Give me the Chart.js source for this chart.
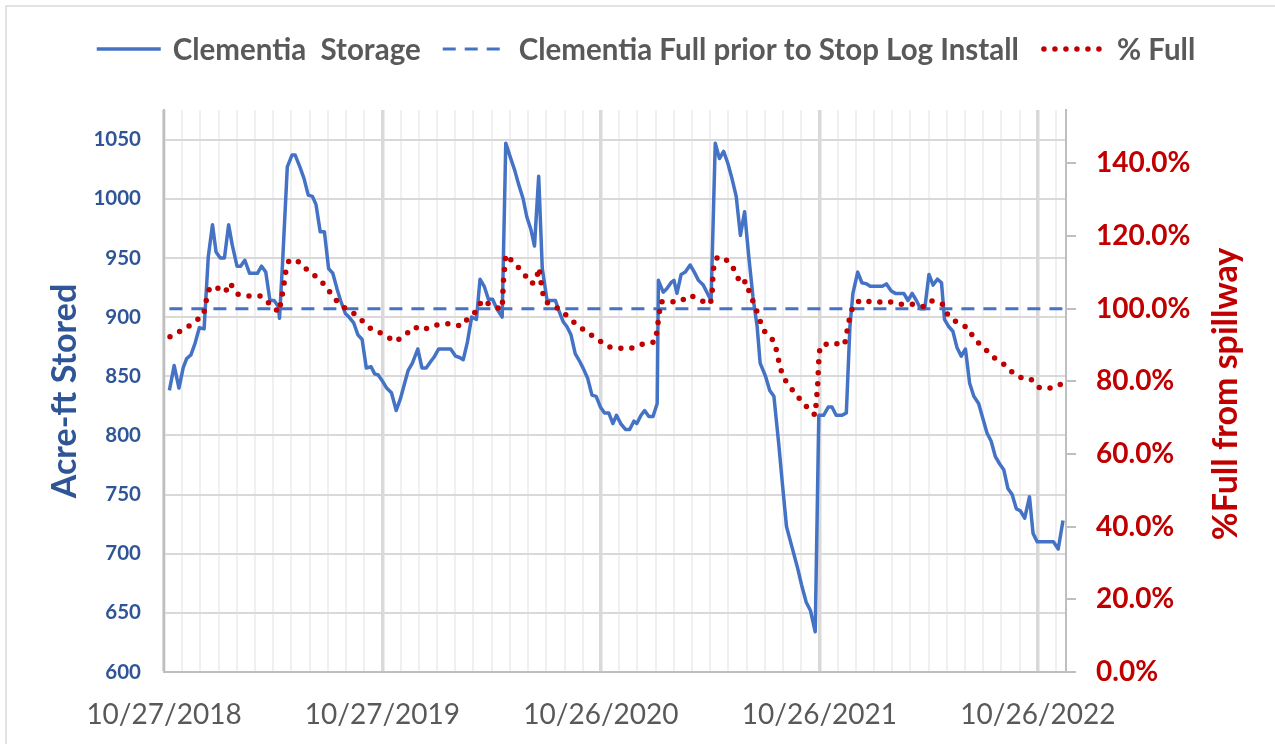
<!DOCTYPE html>
<html>
<head>
<meta charset="utf-8">
<title>Clementia Storage</title>
<script src="https://cdn.jsdelivr.net/npm/chart.js@4.4.1/dist/chart.umd.min.js"></script>
<style>
  html, body { margin: 0; padding: 0; background: #ffffff; }
  canvas { display: block; }
</style>
</head>
<body>
<canvas id="chart" width="1275" height="744"></canvas>
<script>
// days counted from 10/27/2018
const storageDays = [
  9, 17, 25, 32, 38, 45, 52, 59, 67, 74, 81, 87, 94, 101, 108, 114, 122, 128, 135, 143,
  150, 156, 163, 170, 177, 184, 191, 193, 198, 206, 214, 219, 227, 234, 241, 248, 254, 261, 268, 275,
  282, 289, 295, 303, 309, 317, 324, 331, 338, 346, 352, 358, 366, 372, 380, 388, 395, 402, 408, 415,
  424, 431, 438, 445, 451, 459, 465, 473, 479, 487, 493, 500, 507, 514, 522, 528, 535, 542, 549, 556,
  565, 571, 578, 586, 592, 600, 606, 613, 619, 626, 632, 640, 646, 654, 660, 667, 673, 680, 687, 694,
  701, 708, 715, 722, 729, 736, 743, 750, 756, 763, 771, 778, 785, 790, 797, 803, 810, 817, 824, 826,
  834, 840, 847, 852, 857, 864, 871, 879, 886, 893, 901, 907, 914, 921, 928, 935, 942, 949, 956, 963,
  970, 977, 984, 991, 996, 1005, 1012, 1019, 1027, 1033, 1040, 1049, 1058, 1065, 1073, 1080, 1088, 1094, 1102, 1110,
  1116, 1123, 1133, 1140, 1146, 1151, 1159, 1166, 1174, 1180, 1189, 1200, 1207, 1215, 1222, 1229, 1236, 1243, 1250, 1257,
  1264, 1271, 1278, 1285, 1292, 1299, 1304, 1311, 1318, 1325, 1332, 1339, 1346, 1353, 1361, 1375, 1382, 1389, 1396, 1403,
  1410, 1417, 1424, 1431, 1438, 1446, 1452, 1459, 1467, 1476, 1486, 1494, 1502
];
const storage = [
  838, 859, 840, 857, 865, 868, 878, 891, 890, 951, 978, 955, 950, 950, 978, 961, 943, 943, 948, 937,
  937, 937, 943, 938, 914, 914, 909, 899, 945, 1027, 1037, 1037, 1027, 1017, 1003, 1002, 995, 972, 972, 941,
  937, 924, 914, 903, 900, 895, 885, 881, 857, 858, 852, 851, 845, 840, 836, 821, 831, 844, 855, 861,
  873, 857, 857, 862, 866, 873, 873, 873, 873, 867, 866, 864, 879, 900, 898, 932, 926, 915, 915, 907,
  900, 1047, 1036, 1024, 1013, 1000, 985, 974, 960, 1019, 941, 914, 914, 914, 905, 896, 892, 885, 869, 863,
  856, 848, 834, 833, 824, 819, 819, 810, 817, 810, 805, 805, 812, 810, 817, 821, 816, 816, 827, 931,
  921, 924, 929, 931, 920, 936, 938, 944, 938, 931, 927, 921, 914, 1047, 1034, 1040, 1030, 1017, 1002, 969,
  989, 951, 917, 892, 861, 850, 838, 833, 793, 760, 723, 706, 689, 674, 659, 652, 634, 817, 817, 824,
  824, 817, 817, 819, 892, 920, 938, 929, 928, 926, 926, 926, 928, 922, 920, 920, 920, 914, 920, 914,
  907, 907, 936, 927, 932, 929, 898, 892, 888, 874, 867, 873, 844, 833, 827, 802, 795, 782, 776, 771,
  755, 750, 738, 736, 730, 748, 717, 710, 710, 710, 710, 704, 728
];

const pctDays = [
  10, 21, 34, 51, 66, 70, 76, 84, 102, 110, 123, 141, 162, 177, 192, 196, 200, 203, 209, 226,
  242, 259, 272, 283, 299, 317, 333, 347, 368, 386, 401, 418, 432, 454, 475, 497, 510, 523, 531, 551,
  565, 566, 567, 569, 571, 585, 600, 614, 622, 626, 629, 631, 637, 655, 672, 688, 707, 724, 742, 761,
  782, 802, 821, 824, 827, 830, 845, 861, 879, 899, 913, 916, 917, 919, 925, 942, 955, 963, 972, 979,
  988, 995, 1004, 1019, 1025, 1029, 1038, 1051, 1066, 1080, 1088, 1090, 1092, 1093, 1094, 1096, 1115, 1137, 1141, 1145,
  1151, 1164, 1186, 1208, 1230, 1251, 1271, 1283, 1300, 1310, 1327, 1343, 1354, 1370, 1386, 1405, 1421, 1439, 1449, 1463,
  1486, 1501
];
const pctFull = [
  92.3, 93.4, 94.3, 96.4, 98.2, 101.9, 105.6, 106.2, 104.5, 107.1, 104.0, 103.5, 103.5, 101.3, 99.0, 102.4, 106.2, 109.9, 113.4, 112.9,
  110.2, 108.3, 105.8, 103.1, 100.5, 98.7, 96.4, 94.3, 92.9, 90.9, 92.5, 95.0, 94.1, 95.5, 95.9, 95.2, 97.8, 99.4, 102.4, 100.5,
  99.9, 103.7, 107.4, 111.1, 114.9, 112.6, 109.9, 106.9, 107.7, 111.3, 109.2, 105.4, 101.9, 100.5, 98.2, 95.8, 93.5, 91.6, 89.5, 89.1,
  89.2, 90.4, 90.9, 94.4, 98.2, 101.9, 101.9, 101.9, 103.7, 102.1, 101.3, 105.1, 108.8, 112.4, 114.3, 113.2, 110.2, 106.8, 107.6, 104.0,
  100.5, 97.0, 93.6, 91.1, 87.5, 83.8, 80.3, 77.4, 74.4, 71.9, 70.7, 74.8, 78.5, 82.2, 85.8, 89.7, 90.6, 90.0, 93.6, 97.1,
  100.8, 102.4, 101.7, 102.1, 101.2, 101.2, 100.5, 102.1, 101.4, 98.2, 95.9, 94.8, 91.6, 89.2, 86.6, 84.5, 81.9, 80.5, 80.5, 78.2,
  78.2, 79.4
];

const fullLevel = 907;
const yearLabels = ["10/27/2018", "10/27/2019", "10/26/2020", "10/26/2021", "10/26/2022"];
const seriesNames = ["Clementia  Storage", "Clementia Full prior to Stop Log Install", "% Full"];

const FONT = "Lato";
const axisEnd = 1507;

// one gridline per month, a major one per year
const monthTicks = [];
for (let i = 0; i * 365 / 12 <= axisEnd; i++) monthTicks.push(i * 365 / 12);

const storagePts = storageDays.map((d, i) => ({ x: d, y: storage[i] }));
const pctPts = pctDays.map((d, i) => ({ x: d, y: pctFull[i] }));
const fullPts = [
  { x: storageDays[0], y: fullLevel },
  { x: storageDays[storageDays.length - 1], y: fullLevel },
];

const extras = {
  id: "extras",
  beforeDraw(chart) {
    const ctx = chart.ctx;
    ctx.save();
    ctx.fillStyle = "#ffffff";
    ctx.fillRect(0, 0, chart.width, chart.height);
    ctx.strokeStyle = "#D9D9D9";
    ctx.lineWidth = 1.5;
    ctx.strokeRect(6, 6, chart.width + 20, chart.height + 20);
    ctx.restore();
  },
  afterDraw(chart) {
    const ctx = chart.ctx;
    const area = chart.chartArea;
    const midY = (area.top + area.bottom) / 2;

    // axis titles, both read bottom to top
    ctx.save();
    ctx.font = "bold 34px " + FONT;
    ctx.textAlign = "center";
    ctx.textBaseline = "alphabetic";
    ctx.fillStyle = "#2F5597";
    ctx.translate(76, midY);
    ctx.rotate(-Math.PI / 2);
    ctx.fillText("Acre-ft Stored", 0, 0);
    ctx.restore();

    ctx.save();
    ctx.font = "bold 34px " + FONT;
    ctx.textAlign = "center";
    ctx.textBaseline = "alphabetic";
    ctx.fillStyle = "#C00000";
    ctx.translate(1237, midY + 3);
    ctx.rotate(-Math.PI / 2);
    ctx.fillText("%Full from spillway", 0, 0);
    ctx.restore();

    // legend
    ctx.save();
    ctx.font = "bold 29.5px " + FONT;
    ctx.textBaseline = "middle";
    const lineLen = 64, gapText = 12, gapItem = 22;
    const sets = chart.data.datasets;
    const widths = sets.map(ds => lineLen + gapText + ctx.measureText(ds.label).width);
    const total = widths.reduce((a, b) => a + b, 0) + gapItem * (sets.length - 1);
    let x = 646 - total / 2;
    const y = 49;
    sets.forEach((ds, i) => {
      ctx.beginPath();
      ctx.strokeStyle = ds.borderColor;
      ctx.lineWidth = ds.borderWidth;
      ctx.lineCap = ds.borderCapStyle || "butt";
      ctx.setLineDash(ds.borderDash || []);
      ctx.moveTo(x + (ds.borderCapStyle === "round" ? 3 : 0), y);
      ctx.lineTo(x + lineLen, y);
      ctx.stroke();
      ctx.setLineDash([]);
      ctx.fillStyle = "#595959";
      ctx.fillText(ds.label, x + lineLen + gapText, y + 1);
      x += widths[i] + gapItem;
    });
    ctx.restore();
  }
};

const ctx = document.getElementById("chart").getContext("2d");
new Chart(ctx, {
  type: "line",
  data: {
    datasets: [
      {
        label: seriesNames[0],
        data: storagePts,
        yAxisID: "y",
        borderColor: "#4472C4",
        borderWidth: 3.5,
        borderJoinStyle: "round",
        pointRadius: 0,
        tension: 0,
        order: 1,
      },
      {
        label: seriesNames[1],
        data: fullPts,
        yAxisID: "y",
        borderColor: "#4472C4",
        borderWidth: 3,
        borderDash: [13, 9],
        pointRadius: 0,
        order: 2,
      },
      {
        label: seriesNames[2],
        data: pctPts,
        yAxisID: "y2",
        borderColor: "#C00000",
        borderWidth: 5.5,
        borderDash: [0, 11],
        borderCapStyle: "round",
        pointRadius: 0,
        tension: 0,
        order: 0,
      },
    ],
  },
  options: {
    responsive: false,
    animation: false,
    devicePixelRatio: 1,
    layout: { padding: { top: 110, left: 0, right: 0, bottom: 0 } },
    plugins: {
      legend: { display: false },
      tooltip: { enabled: false },
    },
    scales: {
      x: {
        type: "linear",
        min: 0,
        max: axisEnd,
        afterBuildTicks: (axis) => {
          axis.ticks = monthTicks.map(v => ({ value: v }));
        },
        afterFit: (s) => { s.height = 72; },
        ticks: {
          autoSkip: false,
          maxRotation: 0,
          padding: 26,
          color: "#595959",
          font: { family: FONT, size: 28 },
          callback: (v, i) => (i % 12 === 0 ? yearLabels[i / 12] : ""),
        },
        grid: {
          drawTicks: false,
          color: (c) => (c.index % 12 === 0 ? "#D9D9D9" : "#F0F0F0"),
          lineWidth: (c) => (c.index % 12 === 0 ? 3.5 : 2),
        },
        border: { color: "#BFBFBF", width: 2 },
      },
      y: {
        position: "left",
        min: 600,
        max: 1075,
        afterFit: (s) => { s.width = 164; },
        ticks: {
          stepSize: 50,
          includeBounds: false,
          padding: 23,
          color: "#2F5597",
          font: { family: FONT, size: 20.5, weight: "bold" },
          callback: (v) => String(v),
        },
        grid: { color: "#D9D9D9", lineWidth: 2, drawTicks: false },
        border: { color: "#BFBFBF", width: 2 },
      },
      y2: {
        position: "right",
        min: 0,
        max: 154.7,
        afterFit: (s) => { s.width = 209; },
        ticks: {
          stepSize: 20,
          includeBounds: false,
          padding: 20,
          color: "#C00000",
          font: { family: FONT, size: 28, weight: "bold" },
          callback: (v) => v.toFixed(1) + "%",
        },
        grid: { drawOnChartArea: false, tickLength: 10, color: "#BFBFBF", lineWidth: 2 },
        border: { color: "#BFBFBF", width: 2 },
      },
    },
  },
  plugins: [extras],
});
</script>
</body>
</html>
